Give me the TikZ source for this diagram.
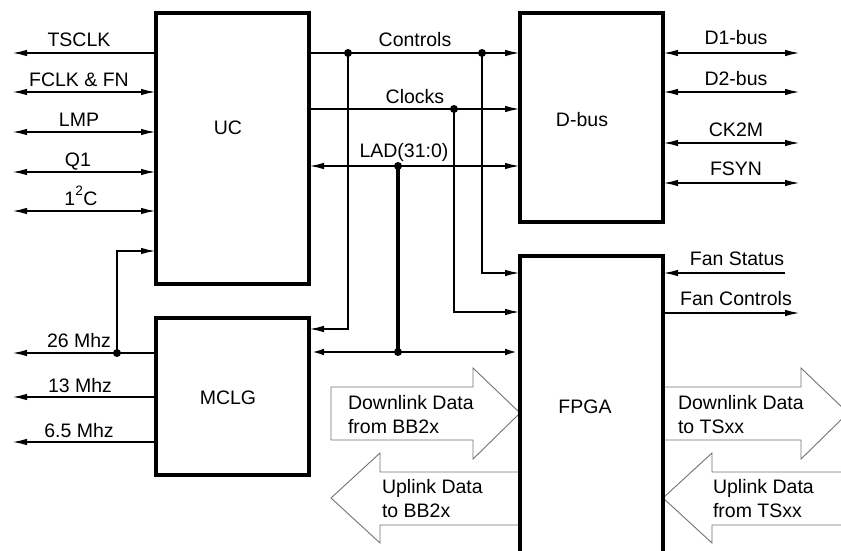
\documentclass[tikz,border=0pt]{standalone}
\usepackage{fontspec}
\setmainfont{Liberation Sans}
\usetikzlibrary{arrows.meta}
\begin{document}
\begin{tikzpicture}[x=1pt,y=-1pt,
  >={Latex[length=15pt,width=6.5pt]},
  box/.style={draw,line width=3.5pt,outer sep=0pt,inner sep=0pt,anchor=north west},
  lbl/.style={font=\fontsize{19.5}{24}\selectfont,inner sep=0pt,outer sep=0pt},
  sig/.style={line width=1.8pt},
  bus/.style={line width=4pt},
  bustwo/.style={line width=2.8pt},
  jdot/.style={circle,fill,inner sep=0pt,minimum size=8pt},
  blk/.style={draw=black!55,line width=0.9pt,fill=white,line join=miter}]
\useasboundingbox (0,0) rectangle (841,551);
\begin{scope}
\clip (0,0) rectangle (841,551);

% block arrows
\draw[blk] (331,387) -- (473,387) -- (473,368) -- (520,413) -- (473,459) -- (473,440) -- (331,440) -- cycle;
\draw[blk] (520,472) -- (380,472) -- (380,453) -- (331,498) -- (380,543) -- (380,525) -- (520,525);
\draw[blk] (663,387) -- (801,387) -- (801,368) -- (848,413) -- (801,459) -- (801,440) -- (663,440);
\draw[blk] (860,472) -- (712,472) -- (712,453) -- (663,498) -- (712,543) -- (712,525) -- (860,525);
\node[lbl,anchor=base west] (tdl) at (348,409) {Downlink Data};
\node[lbl,anchor=base west] (tdl2) at (348,433) {from BB2x};
\node[lbl,anchor=base west] (tul) at (382,493) {Uplink Data};
\node[lbl,anchor=base west] (tul2) at (382,517) {to BB2x};
\node[lbl,anchor=base west] (tdr) at (678,409) {Downlink Data};
\node[lbl,anchor=base west] (tdr2) at (678,433) {to TSxx};
\node[lbl,anchor=base west] (tur) at (713,493) {Uplink Data};
\node[lbl,anchor=base west] (tur2) at (713,517) {from TSxx};

% boxes
\node[box,minimum width=153pt,minimum height=271pt] (uc) at (156,13) {};
\node[box,minimum width=153pt,minimum height=157pt] (mclg) at (156,318) {};
\node[box,minimum width=143pt,minimum height=209pt] (dbus) at (520,13) {};
\node[box,minimum width=143pt,minimum height=344pt] (fpga) at (520,256) {};
\node[lbl] (tuc) at (228,128) {UC};
\node[lbl] (tmclg) at (228,398) {MCLG};
\node[lbl] (tdbus) at (582,120) {D-bus};
\node[lbl] (tfpga) at (585,407) {FPGA};

% left signals of UC
\coordinate (e1) at (12,53);
\coordinate (e2) at (12,92);
\coordinate (e3) at (12,132);
\coordinate (e4) at (12,172);
\coordinate (e5) at (12,211);
\draw[sig,<-] (e1) -- (uc.west |- e1);
\draw[sig,<->] (e2) -- (uc.west |- e2);
\draw[sig,<->] (e3) -- (uc.west |- e3);
\draw[sig,<->] (e4) -- (uc.west |- e4);
\draw[sig,<->] (e5) -- (uc.west |- e5);
\node[lbl,anchor=base] (l1) at (79,47) {TSCLK};
\node[lbl,anchor=base] (l2) at (79,86) {FCLK \& FN};
\node[lbl,anchor=base] (l3) at (79,126) {LMP};
\node[lbl,anchor=base] (l4) at (78,166) {Q1};
\node[lbl,anchor=base] (l5) at (81,205) {1\raisebox{1.5pt}{\textsuperscript{2}}C};

% left signals of MCLG
\coordinate (m1) at (12,353);
\coordinate (m2) at (12,397);
\coordinate (m3) at (12,442);
\coordinate (j26) at (117,353);
\draw[sig,<-] (m1) -- (mclg.west |- m1);
\draw[sig,<-] (m2) -- (mclg.west |- m2);
\draw[sig,<-] (m3) -- (mclg.west |- m3);
\draw[sig,->] (j26) |- (uc.west |- 0,251);
\node[jdot] (d26) at (j26) {};
\node[lbl,anchor=base] (lm1) at (79,347) {26 Mhz};
\node[lbl,anchor=base] (lm2) at (80,392) {13 Mhz};
\node[lbl,anchor=base] (lm3) at (79,437) {6.5 Mhz};

% internal buses
\coordinate (jc1) at (348,53);
\coordinate (jc2) at (482,53);
\coordinate (jk) at (454,109);
\coordinate (jl) at (398,166);
\coordinate (jl2) at (398,352);
\draw[sig,->] (uc.east |- jc1) -- (dbus.west |- jc1);
\draw[sig,->] (jc1) |- (mclg.east |- 0,329);
\draw[sig,->] (jc2) |- (fpga.west |- 0,273);
\draw[sig,->] (uc.east |- jk) -- (dbus.west |- jk);
\draw[sig,->] (jk) |- (fpga.west |- 0,312);
\draw[sig,<->] (uc.east |- jl) -- (dbus.west |- jl);
\draw[bus] (jl) -- (jl2);
\draw[bustwo,<->] (mclg.east |- jl2) -- (fpga.west |- jl2);
\node[jdot] (djc1) at (jc1) {};
\node[jdot] (djc2) at (jc2) {};
\node[jdot] (djk) at (jk) {};
\node[jdot] (djl) at (jl) {};
\node[jdot] (djl2) at (jl2) {};
\node[lbl,anchor=base] (lc) at (415,47) {Controls};
\node[lbl,anchor=base] (lk) at (415,103) {Clocks};
\node[lbl,anchor=base] (ll) at (404,157) {LAD(31:0)};

% right signals
\coordinate (r1) at (800,53);
\coordinate (r2) at (800,92);
\coordinate (r3) at (800,143);
\coordinate (r4) at (800,183);
\coordinate (r5) at (785,273);
\coordinate (r6) at (800,313);
\draw[sig,<->] (dbus.east |- r1) -- (r1);
\draw[sig,<->] (dbus.east |- r2) -- (r2);
\draw[sig,<->] (dbus.east |- r3) -- (r3);
\draw[sig,<->] (dbus.east |- r4) -- (r4);
\draw[sig,->] (r5) -- (fpga.east |- r5);
\draw[sig,->] (fpga.east |- r6) -- (r6);
\node[lbl,anchor=base] (lr1) at (736,45) {D1-bus};
\node[lbl,anchor=base] (lr2) at (736,85) {D2-bus};
\node[lbl,anchor=base] (lr3) at (736,136) {CK2M};
\node[lbl,anchor=base] (lr4) at (736,175) {FSYN};
\node[lbl,anchor=base] (lr5) at (737,265) {Fan Status};
\node[lbl,anchor=base] (lr6) at (736,305) {Fan Controls};
\end{scope}
\end{tikzpicture}
\end{document}
